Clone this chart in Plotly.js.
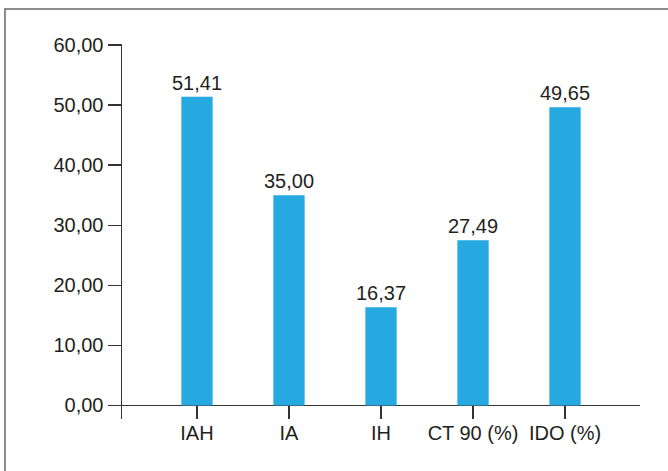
<!DOCTYPE html>
<html>
<head>
<meta charset="utf-8">
<script src="https://cdn.plot.ly/plotly-3.0.1.min.js"></script>
<style>
html,body{margin:0;padding:0;background:#fff;}
#chart{width:668px;height:471px;}
</style>
</head>
<body>
<div id="chart"></div>
<script>
var categories = ["IAH", "IA", "IH", "CT 90 (%)", "IDO (%)"];
var values = [51.41, 35.00, 16.37, 27.49, 49.65];
var yTickVals = [0, 10, 20, 30, 40, 50, 60];
var yTickText = ["0,00", "10,00", "20,00", "30,00", "40,00", "50,00", "60,00"];

function fmt(v) { return v.toFixed(2).replace(".", ","); }

var fontFam = "Liberation Sans, Arial, Helvetica, sans-serif";
var textCol = "#231f20";

var trace = {
  type: "bar",
  x: categories,
  y: values,
  text: values.map(fmt),
  textposition: "outside",
  constraintext: "none",
  cliponaxis: false,
  textfont: {family: fontFam, size: 20, color: textCol},
  marker: {color: "#25a9e0", line: {width: 0}},
  hoverinfo: "none"
};

var layout = {
  width: 668,
  height: 471,
  margin: {l: 122, r: 28, t: 44, b: 52, pad: 0},
  paper_bgcolor: "#fff",
  plot_bgcolor: "#fff",
  showlegend: false,
  bargap: 0.66,
  font: {family: fontFam, size: 20, color: textCol},
  xaxis: {
    type: "category",
    range: [-0.815, 4.815],
    showline: false,
    showgrid: false,
    zeroline: false,
    ticks: "inside",
    ticklen: 13,
    tickwidth: 1.5,
    tickcolor: "#333",
    tickfont: {family: fontFam, size: 20, color: textCol},
    fixedrange: true
  },
  yaxis: {
    range: [-2.25, 60.17],
    tickvals: yTickVals,
    ticktext: yTickText,
    showline: true,
    linecolor: "#333",
    linewidth: 1.5,
    showgrid: false,
    zeroline: true,
    zerolinecolor: "#333",
    zerolinewidth: 1.5,
    ticks: "outside",
    ticklen: 13,
    tickwidth: 1.5,
    tickcolor: "#333",
    tickfont: {family: fontFam, size: 20, color: textCol},
    fixedrange: true
  },
  shapes: [{
    type: "rect",
    xref: "paper", yref: "paper",
    x0: -0.2259, x1: 1.2,
    y0: -0.2, y1: 1.0933,
    line: {color: "#666", width: 1.5},
    fillcolor: "rgba(0,0,0,0)",
    layer: "above"
  }]
};

Plotly.newPlot("chart", [trace], layout, {displayModeBar: false, staticPlot: true});
</script>
</body>
</html>
